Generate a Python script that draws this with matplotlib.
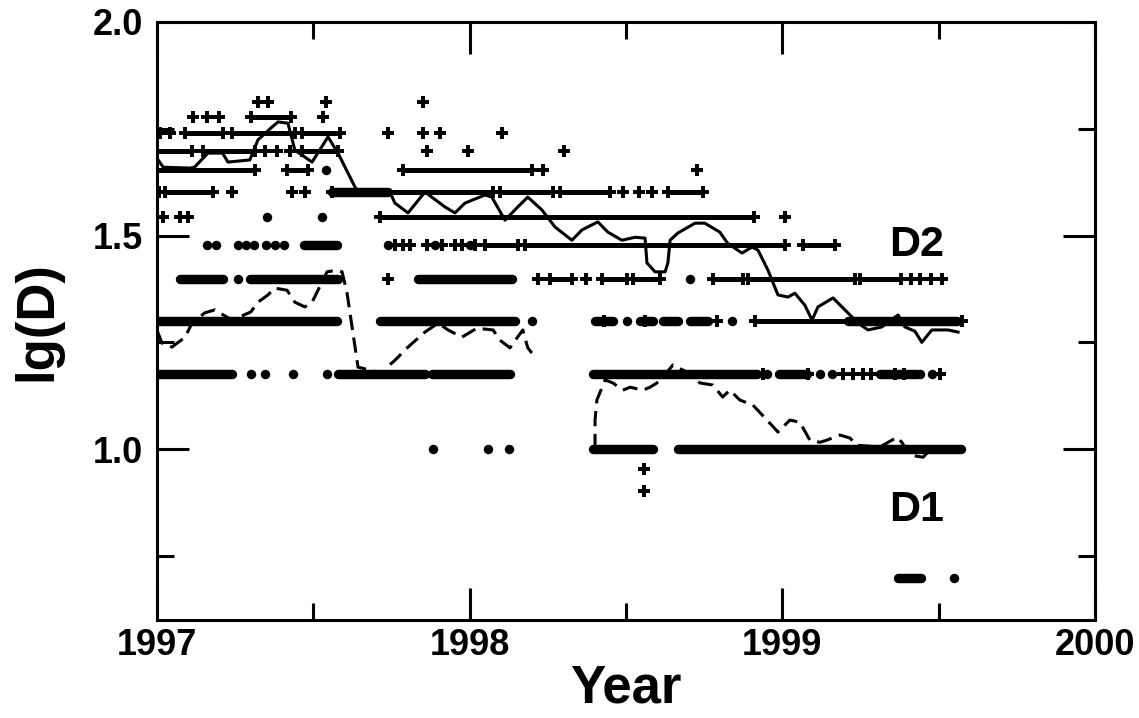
import numpy as np
import matplotlib
matplotlib.use("Agg")
import matplotlib.pyplot as plt
from matplotlib.ticker import FixedLocator

plt.rcParams['font.family'] = ['Liberation Sans', 'DejaVu Sans']
plt.rcParams['font.weight'] = 'bold'

# D2 readings (crosses): (D, from year, to year); from == to is a single reading
d2_runs = [
    (65, 1997.323, 1997.323), (65, 1997.355, 1997.355), (65, 1997.54, 1997.54), (65, 1997.85, 1997.85),
    (60, 1997.115, 1997.115), (60, 1997.16, 1997.16), (60, 1997.20, 1997.20), (60, 1997.30, 1997.43),
    (60, 1997.53, 1997.53),
    (55, 1997.01, 1997.01), (55, 1997.042, 1997.042), (55, 1997.09, 1997.21), (55, 1997.24, 1997.44),
    (55, 1997.464, 1997.585), (55, 1997.74, 1997.74), (55, 1997.85, 1997.85), (55, 1997.905, 1997.905),
    (55, 1998.103, 1998.103),
    (50, 1997.0, 1997.112), (50, 1997.147, 1997.313), (50, 1997.345, 1997.345), (50, 1997.384, 1997.384),
    (50, 1997.425, 1997.425), (50, 1997.464, 1997.58), (50, 1997.863, 1997.863), (50, 1997.995, 1997.995),
    (50, 1998.302, 1998.302),
    (45, 1997.0, 1997.313), (45, 1997.416, 1997.483), (45, 1997.787, 1998.20), (45, 1998.234, 1998.234),
    (45, 1998.727, 1998.727),
    (40, 1997.005, 1997.005), (40, 1997.025, 1997.18), (40, 1997.24, 1997.24), (40, 1997.432, 1997.432),
    (40, 1997.473, 1997.473), (40, 1997.56, 1998.075), (40, 1998.097, 1998.266), (40, 1998.289, 1998.449),
    (40, 1998.49, 1998.49), (40, 1998.54, 1998.54), (40, 1998.583, 1998.583), (40, 1998.634, 1998.746),
    (35, 1997.02, 1997.02), (35, 1997.074, 1997.074), (35, 1997.10, 1997.10), (35, 1997.713, 1998.91),
    (35, 1999.01, 1999.01),
    (30, 1997.761, 1997.761), (30, 1997.787, 1997.787), (30, 1997.81, 1997.81), (30, 1997.863, 1997.863),
    (30, 1997.911, 1997.911), (30, 1997.953, 1997.953), (30, 1997.975, 1997.975), (30, 1998.017, 1998.017),
    (30, 1998.049, 1998.154), (30, 1998.177, 1999.008), (30, 1999.066, 1999.168),
    (25, 1997.739, 1997.739), (25, 1998.218, 1998.218), (25, 1998.257, 1998.327), (25, 1998.372, 1998.372),
    (25, 1998.423, 1998.503), (25, 1998.522, 1998.609), (25, 1998.778, 1998.875), (25, 1998.89, 1999.232),
    (25, 1999.248, 1999.38), (25, 1999.41, 1999.41), (25, 1999.44, 1999.44), (25, 1999.475, 1999.475),
    (25, 1999.51, 1999.51),
    (20, 1998.43, 1998.43), (20, 1998.56, 1998.56), (20, 1998.791, 1998.791), (20, 1998.912, 1999.575),
    (15, 1998.938, 1998.938), (15, 1999.083, 1999.083), (15, 1999.195, 1999.195), (15, 1999.227, 1999.227),
    (15, 1999.259, 1999.259), (15, 1999.284, 1999.284), (15, 1999.36, 1999.36), (15, 1999.39, 1999.39),
    (15, 1999.504, 1999.504),
    (9, 1998.557, 1998.557), (8, 1998.557, 1998.557),
]

# D1 readings (dots)
d1_runs = [
    (45, 1997.54, 1997.54),
    (40, 1997.56, 1997.74),
    (35, 1997.352, 1997.352), (35, 1997.528, 1997.528),
    (30, 1997.16, 1997.16), (30, 1997.19, 1997.19), (30, 1997.26, 1997.26), (30, 1997.285, 1997.285),
    (30, 1997.31, 1997.31), (30, 1997.349, 1997.349), (30, 1997.377, 1997.377), (30, 1997.406, 1997.406),
    (30, 1997.47, 1997.575), (30, 1997.74, 1997.74), (30, 1997.889, 1997.889), (30, 1998.0, 1998.0),
    (25, 1997.074, 1997.21), (25, 1997.26, 1997.26), (25, 1997.297, 1997.579), (25, 1997.835, 1998.135),
    (25, 1998.705, 1998.705),
    (20, 1997.0, 1997.576), (20, 1997.713, 1998.145), (20, 1998.20, 1998.20),
    (20, 1998.40, 1998.458), (20, 1998.503, 1998.503), (20, 1998.545, 1998.586), (20, 1998.618, 1998.666),
    (20, 1998.705, 1998.762), (20, 1998.838, 1998.838), (20, 1999.21, 1999.56),
    (15, 1997.0, 1997.24), (15, 1997.30, 1997.30), (15, 1997.345, 1997.345), (15, 1997.435, 1997.435),
    (15, 1997.544, 1997.544), (15, 1997.579, 1997.857), (15, 1997.879, 1998.129), (15, 1998.394, 1998.92),
    (15, 1998.95, 1998.95), (15, 1998.99, 1999.08), (15, 1999.12, 1999.12), (15, 1999.16, 1999.16),
    (15, 1999.312, 1999.43), (15, 1999.44, 1999.44), (15, 1999.48, 1999.48),
    (10, 1997.883, 1997.883), (10, 1998.059, 1998.059), (10, 1998.126, 1998.126),
    (10, 1998.394, 1998.586), (10, 1998.666, 1999.571),
    (5, 1999.37, 1999.445), (5, 1999.549, 1999.549),
]

# running means
d2_avg_x = [1997.0, 1997.02, 1997.105, 1997.12, 1997.163, 1997.21, 1997.227, 1997.297, 1997.323,
            1997.368, 1997.387, 1997.419, 1997.441, 1997.496, 1997.547, 1997.579, 1997.633, 1997.643,
            1997.745, 1997.761, 1997.803, 1997.857, 1997.921, 1997.953, 1997.985, 1998.049, 1998.071,
            1998.113, 1998.154, 1998.186, 1998.231, 1998.273, 1998.327, 1998.359, 1998.391, 1998.41,
            1998.442, 1998.487, 1998.529, 1998.561, 1998.567, 1998.593, 1998.625, 1998.634, 1998.641,
            1998.666, 1998.721, 1998.752, 1998.8, 1998.825, 1998.871, 1998.903, 1998.922, 1998.954,
            1998.986, 1999.018, 1999.04, 1999.072, 1999.095, 1999.114, 1999.162, 1999.20, 1999.242,
            1999.274, 1999.318, 1999.338, 1999.37, 1999.392, 1999.424, 1999.446, 1999.478, 1999.53,
            1999.562]
d2_avg_y = [1.681, 1.660, 1.658, 1.660, 1.693, 1.693, 1.672, 1.677, 1.724,
            1.754, 1.766, 1.763, 1.700, 1.672, 1.731, 1.693, 1.614, 1.602,
            1.602, 1.576, 1.553, 1.602, 1.567, 1.553, 1.576, 1.595, 1.590,
            1.536, 1.567, 1.590, 1.560, 1.520, 1.489, 1.513, 1.525, 1.532,
            1.508, 1.489, 1.496, 1.494, 1.436, 1.415, 1.415, 1.436, 1.489,
            1.506, 1.529, 1.529, 1.508, 1.482, 1.459, 1.473, 1.466, 1.419,
            1.361, 1.356, 1.365, 1.337, 1.302, 1.333, 1.354, 1.326, 1.295,
            1.279, 1.286, 1.297, 1.314, 1.286, 1.276, 1.250, 1.279, 1.279,
            1.274]
d1_avg_x = [1997.0, 1997.016, 1997.048, 1997.09, 1997.112, 1997.153, 1997.185, 1997.24, 1997.30,
            1997.323, 1997.355, 1997.377, 1997.416, 1997.441, 1997.473, 1997.496, 1997.515, 1997.544,
            1997.576, 1997.592, 1997.608, 1997.643, 1997.729, 1997.736, 1997.761, 1997.803, 1997.857,
            1997.899, 1997.931, 1997.975, 1998.023, 1998.075, 1998.097, 1998.129, 1998.151, 1998.17,
            1998.186, 1998.199, np.nan, 1998.401, 1998.401, 1998.407, 1998.433, 1998.458, 1998.49,
            1998.513, 1998.554, 1998.577, 1998.599, 1998.631, 1998.65, 1998.714, 1998.736, 1998.778,
            1998.809, 1998.832, 1998.864, 1998.906, 1998.951, 1998.986, 1999.024, 1999.056, 1999.088,
            1999.12, 1999.142, 1999.184, 1999.216, 1999.239, 1999.312, 1999.367, 1999.382, 1999.408,
            1999.45, 1999.472, 1999.51, 1999.526]
d1_avg_y = [1.279, 1.248, 1.239, 1.262, 1.295, 1.319, 1.326, 1.302, 1.321,
            1.344, 1.361, 1.377, 1.372, 1.344, 1.333, 1.344, 1.372, 1.415,
            1.419, 1.415, 1.365, 1.192, 1.176, 1.192, 1.208, 1.239, 1.274,
            1.295, 1.279, 1.262, 1.283, 1.279, 1.255, 1.237, 1.260, 1.279,
            1.237, 1.225, np.nan, 1.000, 1.068, 1.115, 1.162, 1.155, 1.138,
            1.145, 1.138, 1.145, 1.155, 1.180, 1.197, 1.173, 1.155, 1.150,
            1.122, 1.138, 1.115, 1.103, 1.068, 1.040, 1.068, 1.063, 1.021,
            1.016, 1.021, 1.033, 1.026, 1.009, 1.005, 1.028, 1.016, 0.986,
            0.981, 0.998, 1.000, 1.005]

fig = plt.figure(figsize=(11.39, 7.18), dpi=100)
ax = fig.add_axes([0.1378, 0.1365, 0.8236, 0.8329])

# crosses
for D, x0, x1 in d2_runs:
    y = np.log10(D)
    if x1 > x0:
        ax.plot([x0, x1], [y, y], color='black', lw=3.6, solid_capstyle='butt', zorder=2)
    ax.plot([x0, x1], [y, y], ls='none', marker='+', ms=9, mew=2.8, color='black', zorder=2)

# dots
for D, x0, x1 in d1_runs:
    y = np.log10(D)
    if x1 > x0:
        ax.plot([x0, x1], [y, y], color='black', lw=6.8, solid_capstyle='round', zorder=2)
    else:
        ax.plot([x0], [y], ls='none', marker='o', ms=6.8, color='black', mew=0, zorder=2)

ax.plot(d2_avg_x, d2_avg_y, color='black', lw=2.2, zorder=3)
ax.plot(d1_avg_x, d1_avg_y, color='black', lw=2.2, ls=(0, (5, 2.5)), zorder=3)

ax.text(1999.43, 1.478, 'D2', fontsize=31, fontweight='bold', ha='center', va='center')
ax.text(1999.43, 0.857, 'D1', fontsize=31, fontweight='bold', ha='center', va='center')

ax.set_xlim(1997, 2000)
ax.set_ylim(0.6, 2.0)
ax.xaxis.set_major_locator(FixedLocator([1997, 1998, 1999, 2000]))
ax.xaxis.set_minor_locator(FixedLocator([1997.5, 1998.5, 1999.5]))
ax.yaxis.set_major_locator(FixedLocator([1.0, 1.5, 2.0]))
ax.yaxis.set_minor_locator(FixedLocator([0.75, 1.25, 1.75]))
ax.set_xticklabels(['1997', '1998', '1999', '2000'])
ax.set_yticklabels(['1.0', '1.5', '2.0'])
ax.tick_params(which='both', direction='in', top=True, right=True, width=2.2)
ax.tick_params(which='major', length=23, labelsize=26)
ax.tick_params(axis='y', which='major', pad=10)
ax.tick_params(axis='x', which='major', pad=6)
ax.tick_params(which='minor', length=12)
for lab in ax.get_xticklabels() + ax.get_yticklabels():
    lab.set_fontweight('bold')
for sp in ax.spines.values():
    sp.set_linewidth(2.2)

ax.set_xlabel('Year', fontsize=38, fontweight='bold', labelpad=0)
ax.set_ylabel('lg(D)', fontsize=38, fontweight='bold', labelpad=22)

fig.savefig('out.png', dpi=100)
